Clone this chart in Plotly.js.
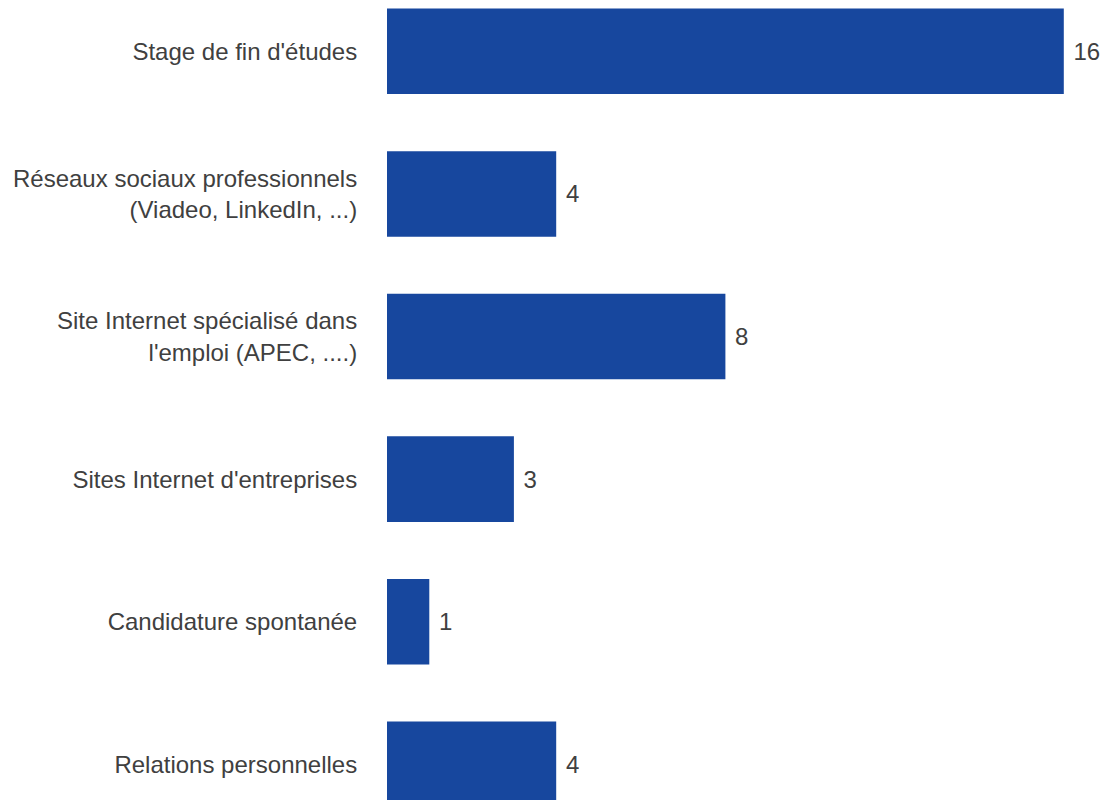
<!DOCTYPE html>
<html>
<head>
<meta charset="utf-8">
<script src="https://cdn.plot.ly/plotly-3.0.1.min.js"></script>
<style>html,body{margin:0;padding:0;background:#fff;}#chart{width:1119px;height:800px;}</style>
</head>
<body>
<div id="chart"></div>
<script>
const categories = [
  "Stage de fin d'études",
  "Réseaux sociaux professionnels<br>(Viadeo, LinkedIn, ...)",
  "Site Internet spécialisé dans<br>l'emploi (APEC, ....)",
  "Sites Internet d'entreprises",
  "Candidature spontanée",
  "Relations personnelles"
];
const values = [16, 4, 8, 3, 1, 4];

const trace = {
  type: 'bar',
  orientation: 'h',
  x: values,
  y: categories,
  marker: {color: '#17479e'},
  width: 0.6,
  text: values.map(v => String(v)),
  texttemplate: ' %{x}',
  textposition: 'outside',
  cliponaxis: false,
  textfont: {family: 'Liberation Sans, Arial, sans-serif', size: 24, color: '#404040'},
  hoverinfo: 'none'
};

const layout = {
  width: 1119,
  height: 800,
  margin: {l: 387, r: 0, t: 0, b: 0, pad: 0},
  paper_bgcolor: '#ffffff',
  plot_bgcolor: '#ffffff',
  showlegend: false,
  font: {family: 'Liberation Sans, Arial, sans-serif', size: 24, color: '#404040'},
  xaxis: {
    range: [0, (1119 - 387) / 42.3],
    showgrid: false, zeroline: false, showline: false, showticklabels: false, ticks: ''
  },
  yaxis: {
    type: 'category',
    categoryorder: 'array',
    categoryarray: categories,
    range: [5.25, -0.36],
    showgrid: false, zeroline: false, showline: false,
    ticks: 'outside', ticklen: 24, tickcolor: 'rgba(0,0,0,0)',
    tickfont: {family: 'Liberation Sans, Arial, sans-serif', size: 24, color: '#404040'}
  }
};

Plotly.newPlot('chart', [trace], layout, {displayModeBar: false, staticPlot: true});
</script>
</body>
</html>
